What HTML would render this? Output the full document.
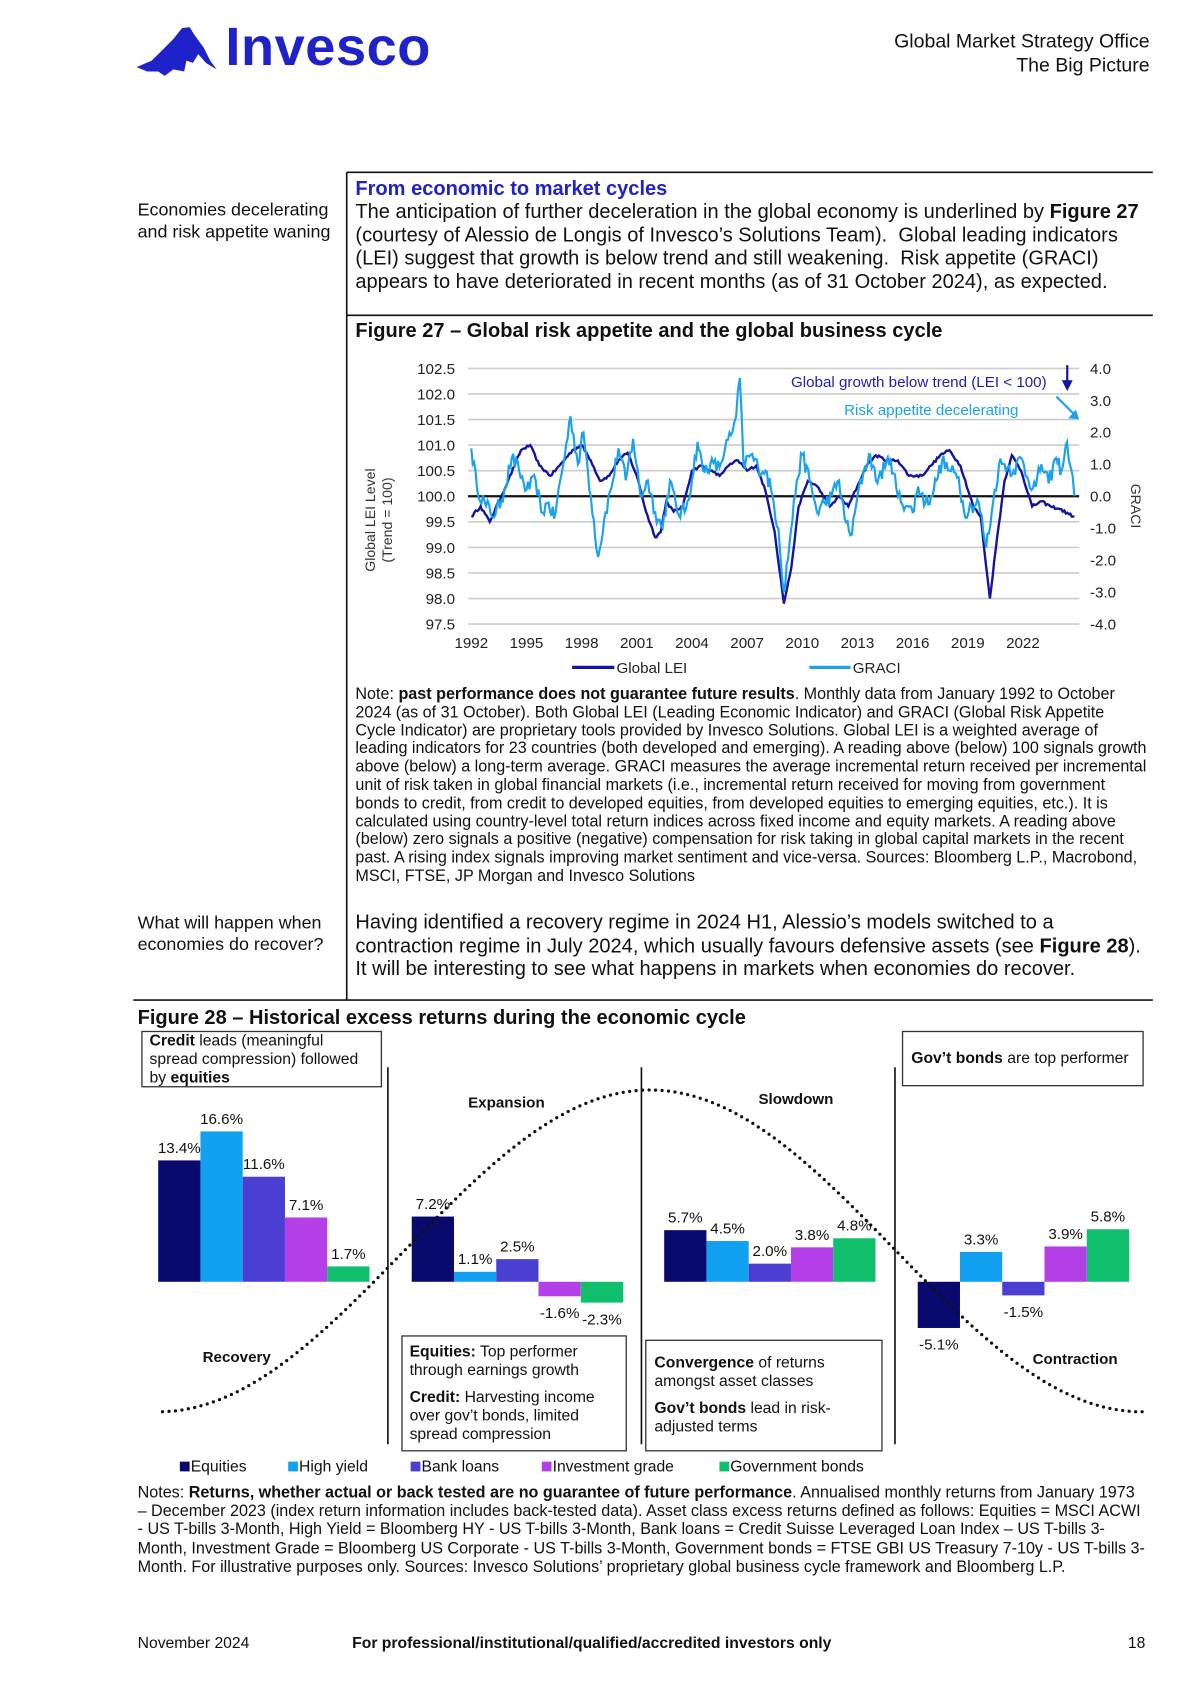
<!DOCTYPE html>
<html><head><meta charset="utf-8"><style>
html,body{margin:0;padding:0;background:#fff;}
body{width:1200px;height:1697px;overflow:hidden;position:relative;}
#w{position:absolute;left:0;top:0;width:1100px;height:1566px;transform:scale(1.0835);transform-origin:0 0;font-family:"Liberation Sans",Arial,sans-serif;color:#111;}
.a{position:absolute;white-space:nowrap;}
.p18{font-size:18.5px;}
.n{font-size:14.9px;line-height:16.8px;}
b{font-weight:bold;}
</style></head><body><div id="w">
<svg class="a" style="left:0;top:0" width="1100" height="1566" xmlns="http://www.w3.org/2000/svg">
<path d="M126,62 L140,56 L150,46 L160,36 L168,26 L175,25 L180,33 L188,44 L194,56 L200,64 L190,58 L183,50 L178,58 L172,56 L170,66 L160,64 L152,70 L146,66 L136,66 Z" fill="#1f22c8"/>
<g stroke="#111" stroke-width="1.5"><line x1="320" y1="159" x2="1064" y2="159"/><line x1="320" y1="159" x2="320" y2="923"/><line x1="320" y1="291" x2="1064" y2="291"/><line x1="123" y1="923" x2="1064" y2="923"/></g>
<g id="grid" stroke="#ccc" stroke-width="1.5"></g>
<line x1="432" y1="458" x2="996" y2="458" stroke="#111" stroke-width="2"/>
<path id="lei" fill="none" stroke="#1414a0" stroke-width="2.2"/>
<path id="graci" fill="none" stroke="#1aa3ec" stroke-width="2"/>
<g font-size="14" fill="#222" text-anchor="end" id="ly"></g>
<g font-size="14" fill="#222" id="ry"></g>
<g font-size="14" fill="#222" text-anchor="middle" id="xt"></g>
<text x="0" y="0" font-size="13" fill="#333" text-anchor="middle" transform="translate(346,480) rotate(-90)">Global LEI Level</text>
<text x="0" y="0" font-size="13" fill="#333" text-anchor="middle" transform="translate(362,480) rotate(-90)">(Trend = 100)</text>
<text x="0" y="0" font-size="13" fill="#333" text-anchor="middle" transform="translate(1044,467) rotate(90)">GRACI</text>
<text x="966" y="357" font-size="14" fill="#2020b0" text-anchor="end">Global  growth  below  trend (LEI &lt; 100)</text>
<line x1="985" y1="337" x2="985" y2="354" stroke="#1414a0" stroke-width="2"/><path d="M980,351 L985,361 L990,351 Z" fill="#1414a0"/>
<text x="940" y="383" font-size="14" fill="#1aa3ec" text-anchor="end">Risk appetite decelerating</text>
<line x1="975" y1="366" x2="992" y2="383" stroke="#1aa3ec" stroke-width="2"/><path d="M986,386 L996,387 L993,378 Z" fill="#1aa3ec"/>
<line x1="528" y1="616" x2="567" y2="616" stroke="#1414a0" stroke-width="3"/><text x="569" y="621" font-size="14" fill="#222">Global LEI</text>
<line x1="747" y1="616" x2="785" y2="616" stroke="#1aa3ec" stroke-width="3"/><text x="787" y="621" font-size="14" fill="#222">GRACI</text>
<rect x="131" y="952" width="221" height="51" fill="none" stroke="#333" stroke-width="1.2"/>
<rect x="833" y="952" width="222" height="50" fill="none" stroke="#333" stroke-width="1.2"/>
<rect x="371" y="1233" width="207" height="106" fill="none" stroke="#333" stroke-width="1.2"/>
<rect x="596" y="1237" width="218" height="102" fill="none" stroke="#333" stroke-width="1.2"/>
<g stroke="#111" stroke-width="1.5"><line x1="358" y1="985" x2="358" y2="1333"/><line x1="592" y1="985" x2="592" y2="1333"/><line x1="826" y1="985" x2="826" y2="1333"/></g>
<g id="bars"></g>
<path id="curve" fill="none" stroke="#111" stroke-width="3" stroke-linecap="round" stroke-dasharray="0 6"/>
<g font-size="14" font-weight="bold" fill="#111"><text x="432" y="1022">Expansion</text><text x="700" y="1019">Slowdown</text><text x="187" y="1257">Recovery</text><text x="953" y="1259">Contraction</text></g>
<g font-size="14.5" fill="#111"><rect x="166" y="1349" width="9" height="9" fill="#0a0a6e"/><text x="176" y="1358">Equities</text>
<rect x="266" y="1349" width="9" height="9" fill="#12a0f0"/><text x="276" y="1358">High yield</text>
<rect x="379" y="1349" width="9" height="9" fill="#4b3fd1"/><text x="389" y="1358">Bank loans</text>
<rect x="500" y="1349" width="9" height="9" fill="#b43fe6"/><text x="510" y="1358">Investment grade</text>
<rect x="664" y="1349" width="9" height="9" fill="#10bf6c"/><text x="674" y="1358">Government bonds</text></g>
</svg>
<div class="a" style="left:208px;top:14px;font-size:50px;font-weight:bold;color:#1f22c8;letter-spacing:0.5px">Invesco</div>
<div class="a" style="right:39px;top:27px;font-size:18px;text-align:right;line-height:22px">Global Market Strategy Office<br>The Big Picture</div>
<div class="a" style="left:127px;top:185px;font-size:16.5px;line-height:19.5px">Economies decelerating<br>and risk appetite waning</div>
<div class="a p18" style="left:328px;top:163px;color:#1f22c8;font-weight:bold">From economic to market cycles</div>
<div class="a p18" style="left:328px;top:184px;line-height:21.6px">The anticipation of further deceleration in the global economy is underlined by <b>Figure 27</b><br>(courtesy of Alessio de Longis of Invesco’s Solutions Team).&nbsp; Global leading indicators<br>(LEI) suggest that growth is below trend and still weakening.&nbsp; Risk appetite (GRACI)<br>appears to have deteriorated in recent months (as of 31 October 2024), as expected.</div>
<div class="a p18" style="left:328px;top:294px;font-weight:bold">Figure 27 – Global risk appetite and the global business cycle</div>
<div class="a n" style="left:328px;top:633px">Note: <b>past performance does not guarantee future results</b>. Monthly data from January 1992 to October<br>2024 (as of 31 October). Both Global LEI (Leading Economic Indicator) and GRACI (Global Risk Appetite<br>Cycle Indicator) are proprietary tools provided by Invesco Solutions. Global LEI is a weighted average of<br>leading indicators for 23 countries (both developed and emerging). A reading above (below) 100 signals growth<br>above (below) a long-term average. GRACI measures the average incremental return received per incremental<br>unit of risk taken in global financial markets (i.e., incremental return received for moving from government<br>bonds to credit, from credit to developed equities, from developed equities to emerging equities, etc.). It is<br>calculated using country-level total return indices across fixed income and equity markets. A reading above<br>(below) zero signals a positive (negative) compensation for risk taking in global capital markets in the recent<br>past. A rising index signals improving market sentiment and vice-versa. Sources: Bloomberg L.P., Macrobond,<br>MSCI, FTSE, JP Morgan and Invesco Solutions</div>
<div class="a" style="left:127px;top:842px;font-size:16.5px;line-height:20px">What will happen when<br>economies do recover?</div>
<div class="a p18" style="left:328px;top:840px;line-height:21.6px">Having identified a recovery regime in 2024 H1, Alessio’s models switched to a<br>contraction regime in July 2024, which usually favours defensive assets (see <b>Figure 28</b>).<br>It will be interesting to see what happens in markets when economies do recover.</div>
<div class="a p18" style="left:127px;top:928px;font-weight:bold">Figure 28 – Historical excess returns during the economic cycle</div>
<div class="a" style="left:138px;top:953px;font-size:14.5px;line-height:17px"><b>Credit</b> leads (meaningful<br>spread compression) followed<br>by <b>equities</b></div>
<div class="a" style="left:841px;top:969px;font-size:14.5px"><b>Gov’t bonds</b> are top performer</div>
<div class="a" style="left:378px;top:1240px;font-size:14.5px;line-height:17px"><b>Equities:</b> Top performer<br>through earnings growth<div style="height:8px"></div><b>Credit:</b> Harvesting income<br>over gov’t bonds, limited<br>spread compression</div>
<div class="a" style="left:604px;top:1250px;font-size:14.5px;line-height:17px"><b>Convergence</b> of returns<br>amongst asset classes<div style="height:8px"></div><b>Gov’t bonds</b> lead in risk-<br>adjusted terms</div>
<div class="a n" style="left:127px;top:1370px;line-height:17.2px">Notes: <b>Returns, whether actual or back tested are no guarantee of future performance</b>. Annualised monthly returns from January 1973<br>– December 2023 (index return information includes back-tested data). Asset class excess returns defined as follows: Equities = MSCI ACWI<br>- US T-bills 3-Month, High Yield = Bloomberg HY - US T-bills 3-Month, Bank loans = Credit Suisse Leveraged Loan Index – US T-bills 3-<br>Month, Investment Grade = Bloomberg US Corporate - US T-bills 3-Month, Government bonds = FTSE GBI US Treasury 7-10y - US T-bills 3-<br>Month. For illustrative purposes only. Sources: Invesco Solutions’ proprietary global business cycle framework and Bloomberg L.P.</div>
<div class="a" style="left:127px;top:1509px;font-size:14.5px">November 2024</div>
<div class="a" style="left:325px;top:1509px;font-size:14.5px;font-weight:bold">For professional/institutional/qualified/accredited investors only</div>
<div class="a" style="left:1041px;top:1509px;font-size:14.5px">18</div>
</div>
<script>
var NS="http://www.w3.org/2000/svg";
function el(p,t,a,txt){var e=document.createElementNS(NS,t);for(var k in a)e.setAttribute(k,a[k]);if(txt!=null)e.textContent=txt;document.getElementById(p).appendChild(e);return e;}
for(var i=0;i<=10;i++){var y=340+i*23.6;if(i!=5)el("grid","line",{x1:432,y1:y,x2:996,y2:y});
el("ly","text",{x:420,y:y+5},(102.5-i*0.5).toFixed(1));}
for(var i=0;i<=8;i++){var y=340+i*29.5;var v=4-i;el("ry","text",{x:1006,y:y+5},(v<0?"-":"")+Math.abs(v).toFixed(1));}
for(var i=0;i<=10;i++){el("xt","text",{x:435+i*3*16.97,y:598},String(1992+i*3));}
function X(t){return 435+(t-1992)*16.97;}
var L=[1992,99.6,1992.5,99.8,1993,99.5,1993.5,99.9,1994,100.3,1994.7,100.9,1995.2,101.0,1995.7,100.6,1996.3,100.4,1996.8,100.6,1997.5,100.9,1998,101.0,1998.5,100.7,1999,100.3,1999.5,100.4,2000,100.7,2000.5,100.85,2001,100.4,2001.5,99.7,2002,99.2,2002.3,99.3,2002.6,99.9,2003,99.7,2003.5,99.8,2004,100.5,2004.5,100.6,2005,100.5,2005.5,100.4,2006,100.6,2006.5,100.7,2007,100.5,2007.5,100.6,2008,100.1,2008.5,99.3,2009,97.9,2009.4,98.6,2009.8,99.8,2010.3,100.3,2010.8,100.2,2011.5,99.8,2012,100.0,2012.5,99.8,2013,100.2,2013.5,100.6,2014,100.8,2014.6,100.7,2015.2,100.7,2015.8,100.4,2016.5,100.4,2017,100.6,2017.5,100.8,2018,100.9,2018.6,100.6,2019.3,99.8,2019.7,99.6,2020.2,98.0,2020.6,99.2,2021,100.3,2021.4,100.8,2021.9,100.5,2022.5,99.8,2023,99.9,2023.5,99.8,2024,99.75,2024.5,99.65,2024.8,99.6];
var G=[1992,1.5,1992.3,0.3,1992.8,-0.3,1993.3,-0.6,1993.8,0.2,1994.2,1.2,1994.6,0.8,1995,0.2,1995.5,0.5,1995.8,-0.5,1996.2,-0.2,1996.5,-0.7,1997,1.0,1997.4,2.5,1997.8,1.0,1998.1,2.0,1998.5,0.0,1998.9,-1.9,1999.3,-0.5,1999.7,0.5,2000,1.5,2000.4,0.5,2000.8,1.8,2001.2,0.0,2001.6,0.5,2002,-0.5,2002.4,-1.0,2002.8,0.5,2003.2,-0.5,2003.6,-0.5,2004,0.5,2004.3,1.7,2004.6,0.8,2005,1.0,2005.5,0.9,2005.8,1.5,2006.2,2.0,2006.4,2.5,2006.6,3.7,2006.8,1.0,2007.2,1.3,2007.6,0.9,2008,0.8,2008.3,0.2,2008.7,-1.0,2009,-3.0,2009.3,-1.5,2009.7,0.5,2010,1.3,2010.4,0.5,2010.8,-0.5,2011.2,-0.2,2011.6,0.0,2012,0.5,2012.3,-0.7,2012.7,-1.2,2013,0.0,2013.4,0.9,2013.7,1.3,2014,0.5,2014.5,0.9,2014.8,1.2,2015.2,0.0,2015.7,-0.3,2016,-0.5,2016.3,0.3,2016.7,-0.2,2017,0.0,2017.3,0.5,2017.6,1.1,2018,0.8,2018.5,0.6,2018.8,-0.5,2019.2,-0.3,2019.6,-0.2,2020,-1.6,2020.3,-0.5,2020.7,1.0,2021,1.0,2021.5,0.8,2021.9,1.2,2022.3,0.5,2022.7,0.3,2023,1.0,2023.4,0.4,2023.8,1.2,2024.1,0.8,2024.4,1.7,2024.6,0.9,2024.8,0.0];
function build(A,fy,noise){var d="",s=12345;function r(){s=(s*16807)%2147483647;return s/2147483647-0.5;}
for(var i=0;i<A.length-2;i+=2){var t0=A[i],v0=A[i+1],t1=A[i+2],v1=A[i+3];var n=Math.max(1,Math.round((t1-t0)*12));
for(var k=0;k<n;k++){var f=k/n,t=t0+(t1-t0)*f,v=v0+(v1-v0)*f+(k>0?r()*noise:0);d+=(d?"L":"M")+X(t).toFixed(1)+","+fy(v).toFixed(1);}}
d+="L"+X(A[A.length-2]).toFixed(1)+","+fy(A[A.length-1]).toFixed(1);return d;}
document.getElementById("lei").setAttribute("d",build(L,function(v){return 340+(102.5-v)*47.2;},0.05));
document.getElementById("graci").setAttribute("d",build(G,function(v){return 458-v*29.5;},0.5));
var cols=["#0a0a6e","#12a0f0","#4b3fd1","#b43fe6","#10bf6c"];
var groups=[[146,[13.4,16.6,11.6,7.1,1.7]],[380,[7.2,1.1,2.5,-1.6,-2.3]],[613,[5.7,4.5,2.0,3.8,4.8]],[847,[-5.1,3.3,-1.5,3.9,5.8]]];
var B=1183,S=8.36;
groups.forEach(function(g){g[1].forEach(function(v,i){var x=g[0]+i*39,h=Math.abs(v)*S;
el("bars","rect",{x:x,y:v>=0?B-h:B,width:39,height:h,fill:cols[i]});
var ty=v>=0?B-h-7:B+h+20;el("bars","text",{x:x+19.5,y:ty,"font-size":14,"text-anchor":"middle",fill:"#111"},v.toFixed(1)+"%");});});
var d="";for(var x=150;x<=1058;x+=2){var y=1154.5-148.5*Math.cos(Math.PI*(x-600)/454);d+=(d?"L":"M")+x+","+y.toFixed(1);}
document.getElementById("curve").setAttribute("d",d);
</script>
</body></html>
